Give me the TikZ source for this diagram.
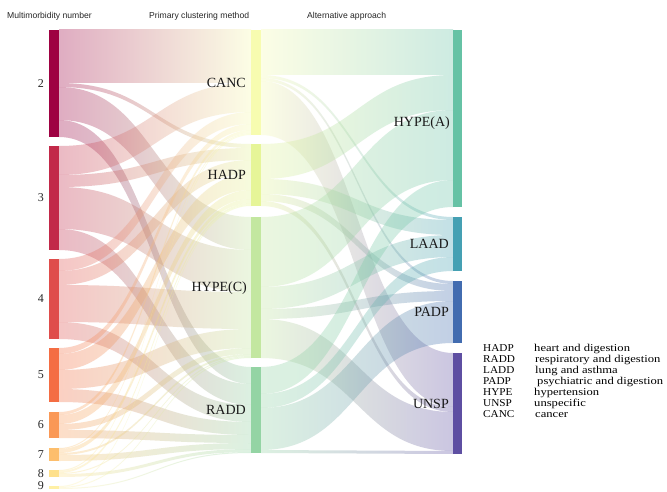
\documentclass[tikz,border=0pt]{standalone}
\usepackage{fontspec}
\setmainfont{Liberation Serif}
\newfontfamily\hdrfont{Liberation Sans}
\newfontfamily\legstretch[FakeStretch=1.2]{Liberation Serif}
\newfontfamily\abstretch[FakeStretch=1.07]{Liberation Serif}
\definecolor{c2}{HTML}{9E0142}
\definecolor{c3}{HTML}{C22949}
\definecolor{c4}{HTML}{DF4D4B}
\definecolor{c5}{HTML}{F46D43}
\definecolor{c6}{HTML}{FA9856}
\definecolor{c7}{HTML}{FDBE6C}
\definecolor{c8}{HTML}{FEE08B}
\definecolor{c9}{HTML}{FFF0A5}
\definecolor{cCANC}{HTML}{F7FCB0}
\definecolor{cHADP}{HTML}{E6F598}
\definecolor{cHYPC}{HTML}{C3E7A0}
\definecolor{cRADD}{HTML}{94D4A4}
\definecolor{cHYPA}{HTML}{66C2A5}
\definecolor{cLAAD}{HTML}{45A0B3}
\definecolor{cPADP}{HTML}{426CB0}
\definecolor{cUNSP}{HTML}{5E4FA2}
\newcommand\lmband[6]{\shade[left color=#5,right color=#6,fill opacity=.32] (59,#1) .. controls (155,#1) and (155,#3) .. (251,#3) -- (251,#4) .. controls (155,#4) and (155,#2) .. (59,#2) -- cycle;}
\newcommand\mrband[6]{\shade[left color=#5,right color=#6,fill opacity=.32] (261,#1) .. controls (357,#1) and (357,#3) .. (453,#3) -- (453,#4) .. controls (357,#4) and (357,#2) .. (261,#2) -- cycle;}
\tikzset{
  bar/.style={draw=none, inner sep=0pt, outer sep=0pt, minimum width=10pt},
  rbar/.style={draw=none, inner sep=0pt, outer sep=0pt, minimum width=9pt},
  hdr/.style={inner sep=0pt, anchor=west, text=black!85, font=\hdrfont\fontsize{8.6}{9}\selectfont},
  numlab/.style={inner sep=0pt, anchor=east, text=black!85, font=\fontsize{12}{12}\selectfont},
  catlab/.style={inner sep=0pt, anchor=east, text=black!90, font=\fontsize{14}{14}\selectfont},
  legab/.style={inner sep=0pt, anchor=base west, text=black, font=\abstretch\fontsize{10.5}{10.5}\selectfont},
  legdesc/.style={inner sep=0pt, anchor=base west, text=black, font=\legstretch\fontsize{10.5}{10.5}\selectfont}
}
\begin{document}
\begin{tikzpicture}[x=1pt,y=-1pt]
\path[use as bounding box, fill=white] (0,0) rectangle (667,492);
% headers
\node[hdr] (h1) at (7,16) {Multimorbidity number};
\node[hdr] (h2) at (149,16) {Primary clustering method};
\node[hdr] (h3) at (307,16) {Alternative approach};
% flows left -> middle
\lmband{30}{83}{30}{83}{c2}{cCANC}
\lmband{83}{87}{144}{148}{c2}{cHADP}
\lmband{87}{120}{217}{250}{c2}{cHYPC}
\lmband{120}{137}{367}{384}{c2}{cRADD}
\lmband{146}{175}{83}{112}{c3}{cCANC}
\lmband{175}{187}{148}{160}{c3}{cHADP}
\lmband{187}{229}{250}{292}{c3}{cHYPC}
\lmband{229}{250}{384}{405}{c3}{cRADD}
\lmband{259}{271}{112}{124}{c4}{cCANC}
\lmband{271}{285}{160}{174}{c4}{cHADP}
\lmband{285}{322}{292}{329}{c4}{cHYPC}
\lmband{322}{339}{405}{422}{c4}{cRADD}
\lmband{348}{354}{124}{130}{c5}{cCANC}
\lmband{354}{370}{174}{190}{c5}{cHADP}
\lmband{370}{389}{329}{348}{c5}{cHYPC}
\lmband{389}{402}{422}{435}{c5}{cRADD}
\lmband{412}{415}{130}{133}{c6}{cCANC}
\lmband{415}{424}{190}{199}{c6}{cHADP}
\lmband{424}{430}{348}{354}{c6}{cHYPC}
\lmband{430}{438}{435}{443}{c6}{cRADD}
\lmband{448}{449}{133}{134}{c7}{cCANC}
\lmband{449}{453}{199}{203}{c7}{cHADP}
\lmband{453}{455}{354}{356}{c7}{cHYPC}
\lmband{455}{461}{443}{449}{c7}{cRADD}
\lmband{470}{471}{134}{135}{c8}{cCANC}
\lmband{471}{473}{203}{205}{c8}{cHADP}
\lmband{473}{474}{356}{357}{c8}{cHYPC}
\lmband{474}{477}{449}{452}{c8}{cRADD}
\lmband{486}{487}{205}{206}{c9}{cHADP}
\lmband{487}{488}{357}{358}{c9}{cHYPC}
\lmband{488}{489}{452}{453}{c9}{cRADD}
% flows middle -> right
\mrband{30}{75}{30}{75}{cCANC}{cHYPA}
\mrband{75}{78}{217}{220}{cCANC}{cLAAD}
\mrband{78}{81}{281}{284}{cCANC}{cPADP}
\mrband{81}{135}{353}{407}{cCANC}{cUNSP}
\mrband{144}{179}{75}{110}{cHADP}{cHYPA}
\mrband{179}{194}{220}{235}{cHADP}{cLAAD}
\mrband{194}{201}{284}{291}{cHADP}{cPADP}
\mrband{201}{206}{407}{412}{cHADP}{cUNSP}
\mrband{217}{287}{110}{180}{cHYPC}{cHYPA}
\mrband{287}{309}{235}{257}{cHYPC}{cLAAD}
\mrband{309}{319}{291}{301}{cHYPC}{cPADP}
\mrband{319}{358}{412}{451}{cHYPC}{cUNSP}
\mrband{367}{394}{180}{207}{cRADD}{cHYPA}
\mrband{394}{408}{257}{271}{cRADD}{cLAAD}
\mrband{408}{450}{301}{343}{cRADD}{cPADP}
\mrband{450}{453}{451}{454}{cRADD}{cUNSP}
% left bars
\node[bar, fill=c2, minimum height=107pt] (L2) at (54,83.5) {};
\node[bar, fill=c3, minimum height=104pt] (L3) at (54,198) {};
\node[bar, fill=c4, minimum height=80pt] (L4) at (54,299) {};
\node[bar, fill=c5, minimum height=54pt] (L5) at (54,375) {};
\node[bar, fill=c6, minimum height=26pt] (L6) at (54,425) {};
\node[bar, fill=c7, minimum height=13pt] (L7) at (54,454.5) {};
\node[bar, fill=c8, minimum height=7pt] (L8) at (54,473.5) {};
\node[bar, fill=c9, minimum height=3pt] (L9) at (54,487.5) {};
% middle bars
\node[bar, fill=cCANC, minimum height=105pt] (CANC) at (256,82.5) {};
\node[bar, fill=cHADP, minimum height=62pt] (HADP) at (256,175) {};
\node[bar, fill=cHYPC, minimum height=141pt] (HYPC) at (256,287.5) {};
\node[bar, fill=cRADD, minimum height=86pt] (RADD) at (256,410) {};
% right bars
\node[rbar, fill=cHYPA, minimum height=177pt] (HYPA) at (457.5,118.5) {};
\node[rbar, fill=cLAAD, minimum height=54pt] (LAAD) at (457.5,244) {};
\node[rbar, fill=cPADP, minimum height=62pt] (PADP) at (457.5,312) {};
\node[rbar, fill=cUNSP, minimum height=101pt] (UNSP) at (457.5,403.5) {};
% left numbers
\node[numlab] (n2) at (44,83.5) {2};
\node[numlab] (n3) at (44,198) {3};
\node[numlab] (n4) at (44,299) {4};
\node[numlab] (n5) at (44,375) {5};
\node[numlab] (n6) at (44,425) {6};
\node[numlab] (n7) at (44,454.5) {7};
\node[numlab] (n8) at (44,473.5) {8};
\node[numlab] (n9) at (44,486) {9};
% middle labels
\node[catlab] (tCANC) at (246,82.5) {CANC};
\node[catlab] (tHADP) at (246,175) {HADP};
\node[catlab] (tHYPC) at (247,288.5) {HYPE(C)};
\node[catlab] (tRADD) at (246,410) {RADD};
% right labels
\node[catlab] (tHYPA) at (450,123) {HYPE(A)};
\node[catlab] (tLAAD) at (449,244) {LAAD};
\node[catlab] (tPADP) at (449,312) {PADP};
\node[catlab] (tUNSP) at (449,403.5) {UNSP};
% legend
\node[legab] (a1) at (483,351) {HADP};
\node[legab] (a2) at (483,362) {RADD};
\node[legab] (a3) at (483,373.5) {LADD};
\node[legab] (a4) at (483,384.5) {PADP};
\node[legab] (a5) at (483,395.5) {HYPE};
\node[legab] (a6) at (483,406.5) {UNSP};
\node[legab] (a7) at (483,417) {CANC};
\node[legdesc] (d1) at (534,351) {heart and digestion};
\node[legdesc] (d2) at (535,362) {respiratory and digestion};
\node[legdesc] (d3) at (535,373.5) {lung and asthma};
\node[legdesc] (d4) at (537,384.5) {psychiatric and digestion};
\node[legdesc] (d5) at (534,395.5) {hypertension};
\node[legdesc] (d6) at (534,406.5) {unspecific};
\node[legdesc] (d7) at (535,417) {cancer};
\end{tikzpicture}
\end{document}
